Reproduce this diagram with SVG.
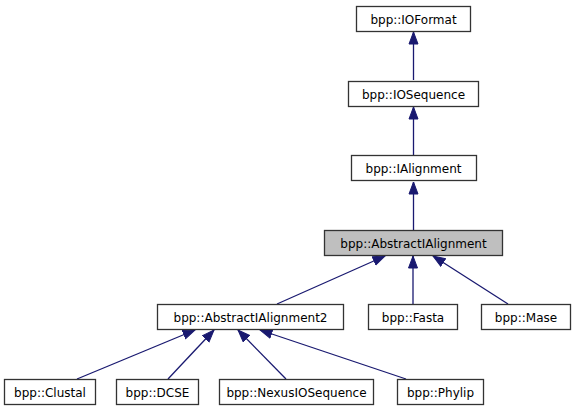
<svg xmlns="http://www.w3.org/2000/svg" width="577" height="411" viewBox="0 0 577 411">
<style>
.box{fill:#fff;stroke:#333;stroke-width:1.3}
.hl{fill:#bfbfbf;stroke:#333;stroke-width:1.3}
text{font-family:"DejaVu Sans",sans-serif;font-size:12px;fill:#000;text-anchor:middle}
.edge{stroke:#191970;stroke-width:1.3;fill:none;marker-end:url(#arr)}
</style>
<defs>
<marker id="arr" markerUnits="userSpaceOnUse" markerWidth="14" markerHeight="11" refX="12.5" refY="5" orient="auto" viewBox="0 0 14 10">
<path d="M0.5,0.5 L12.5,5 L0.5,9.5 z" fill="#191970" stroke="#191970"/>
</marker>
</defs>
<rect width="577" height="411" fill="#fff"/>
<g id="connectors">
<path class="edge" d="M413.5,80 L413.5,32"/>
<path class="edge" d="M413.5,155 L413.5,107"/>
<path class="edge" d="M413.5,230 L413.5,182"/>
<path class="edge" d="M277,304 L385,256"/>
<path class="edge" d="M413,304 L413,256"/>
<path class="edge" d="M508,304 L433,256"/>
<path class="edge" d="M77,379 L195,330"/>
<path class="edge" d="M168,379 L214,330"/>
<path class="edge" d="M286,379 L238,330"/>
<path class="edge" d="M406,379 L260,330"/>
</g>
<g id="IOFormat"><rect class="box" x="356.5" y="6.5" width="114" height="25"/><text x="413.5" y="23.5">bpp::IOFormat</text></g>
<g id="IOSequence"><rect class="box" x="348.5" y="81.5" width="130" height="25"/><text x="413.5" y="98.5">bpp::IOSequence</text></g>
<g id="IAlignment"><rect class="box" x="351.5" y="155.5" width="125" height="25"/><text x="413.5" y="172.5">bpp::IAlignment</text></g>
<g id="AbstractIAlignment"><rect class="hl" x="324.5" y="230.5" width="178" height="25"/><text x="413.5" y="247.5">bpp::AbstractIAlignment</text></g>
<g id="AbstractIAlignment2"><rect class="box" x="157.5" y="304.5" width="186" height="25"/><text x="250.5" y="321.5">bpp::AbstractIAlignment2</text></g>
<g id="Fasta"><rect class="box" x="368.5" y="304.5" width="89" height="25"/><text x="413" y="321.5">bpp::Fasta</text></g>
<g id="Mase"><rect class="box" x="481.5" y="304.5" width="89" height="25"/><text x="526" y="321.5">bpp::Mase</text></g>
<g id="Clustal"><rect class="box" x="4.5" y="379.5" width="91" height="25"/><text x="50" y="396.5">bpp::Clustal</text></g>
<g id="DCSE"><rect class="box" x="116.5" y="379.5" width="82" height="25"/><text x="157.5" y="396.5">bpp::DCSE</text></g>
<g id="NexusIOSequence"><rect class="box" x="219.5" y="379.5" width="154" height="25"/><text x="296.5" y="396.5">bpp::NexusIOSequence</text></g>
<g id="Phylip"><rect class="box" x="397.5" y="379.5" width="86" height="25"/><text x="440.5" y="396.5">bpp::Phylip</text></g>
</svg>
